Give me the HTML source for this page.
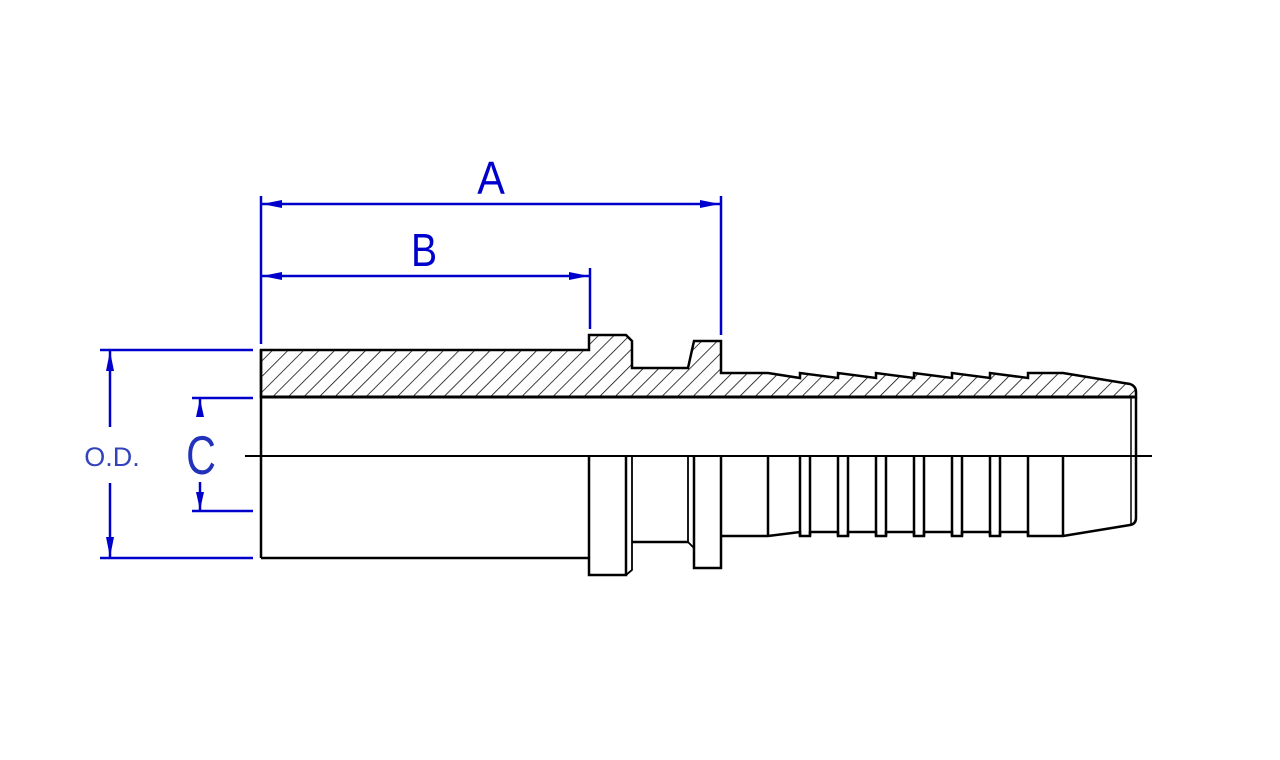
<!DOCTYPE html>
<html><head><meta charset="utf-8"><style>
html,body{margin:0;padding:0;background:#fff;}
svg{display:block;}
</style></head><body>
<svg width="1280" height="760" viewBox="0 0 1280 760" xmlns="http://www.w3.org/2000/svg">
<defs>
<pattern id="h" patternUnits="userSpaceOnUse" width="11" height="11" patternTransform="rotate(45)">
<line x1="0" y1="0" x2="0" y2="11" stroke="#000" stroke-width="1.5"/>
</pattern>
</defs>
<path d="M261,350 L589,350 L589,335 L626,335 L632,341 L632,368 L688,368 L694,341 L721,341 L721,373 L768,373 L800,378 L800,373 L838,378 L838,373 L876,378 L876,373 L914,378 L914,373 L952,378 L952,373 L990,378 L990,373 L1028,378 L1028,373 L1063,373 L1130,384 Q1136,386 1136,392 L1136,397 L261,397 Z" fill="url(#h)" stroke="#000" stroke-width="2.5" stroke-linejoin="miter"/>
<g stroke="#000" stroke-width="2.5" fill="none">
<line x1="261" y1="397" x2="1136" y2="397" stroke-width="3"/>
<line x1="261" y1="350" x2="261" y2="558"/>
<line x1="245" y1="456" x2="1152" y2="456" stroke-width="2"/>
<line x1="261" y1="558" x2="589" y2="558"/>
<path d="M589,456 L589,575 L626,575 L626,456"/>
<path d="M626,456 L632,456 L632,570 L626,575" stroke-width="1.8"/>
<line x1="632" y1="542" x2="688" y2="542"/>
<path d="M688,456 L688,542 L694,548" stroke-width="1.8"/>
<path d="M694,456 L694,568 L721,568 L721,456"/>
<line x1="721" y1="536" x2="768" y2="536"/>
<line x1="768" y1="456" x2="768" y2="536"/>
<path d="M768,536 L800,532 L800,536 L810,536 L810,532 L838,532 L838,536 L848,536 L848,532 L876,532 L876,536 L886,536 L886,532 L914,532 L914,536 L924,536 L924,532 L952,532 L952,536 L962,536 L962,532 L990,532 L990,536 L1000,536 L1000,532 L1028,532 L1028,536 L1063,536 L1130,525 Q1136,524 1136,518 L1136,397"/>
<line x1="800" y1="456" x2="800" y2="536"/><line x1="810" y1="456" x2="810" y2="536"/>
<line x1="838" y1="456" x2="838" y2="536"/><line x1="848" y1="456" x2="848" y2="536"/>
<line x1="876" y1="456" x2="876" y2="536"/><line x1="886" y1="456" x2="886" y2="536"/>
<line x1="914" y1="456" x2="914" y2="536"/><line x1="924" y1="456" x2="924" y2="536"/>
<line x1="952" y1="456" x2="952" y2="536"/><line x1="962" y1="456" x2="962" y2="536"/>
<line x1="990" y1="456" x2="990" y2="536"/><line x1="1000" y1="456" x2="1000" y2="536"/>
<line x1="1028" y1="456" x2="1028" y2="536"/><line x1="1063" y1="456" x2="1063" y2="536"/>
<line x1="1131" y1="397" x2="1131" y2="525" stroke-width="1.5"/>
</g>
<g stroke="#0000cc" stroke-width="2.5" fill="none">
<line x1="261" y1="196" x2="261" y2="344"/>
<line x1="721" y1="196" x2="721" y2="335"/>
<line x1="590" y1="268" x2="590" y2="329"/>
<line x1="261" y1="204" x2="721" y2="204"/>
<line x1="261" y1="276" x2="590" y2="276"/>
<line x1="100" y1="350" x2="253" y2="350"/>
<line x1="100" y1="558" x2="253" y2="558"/>
<line x1="110" y1="350" x2="110" y2="427"/>
<line x1="110" y1="483" x2="110" y2="558"/>
<line x1="192" y1="398" x2="253" y2="398"/>
<line x1="192" y1="511" x2="253" y2="511"/>
<line x1="200" y1="398" x2="200" y2="416"/>
<line x1="200" y1="482" x2="200" y2="511"/>
</g>
<g fill="#0000cc">
<polygon points="262,204 282,200 282,208"/>
<polygon points="720,204 700,200 700,208"/>
<polygon points="262,276 282,272 282,280"/>
<polygon points="589,276 569,272 569,280"/>
<polygon points="110,351 106,371 114,371"/>
<polygon points="110,557 106,537 114,537"/>
<polygon points="200,399 196,417 204,417"/>
<polygon points="200,510 196,492 204,492"/>
</g>
<g fill="#0000cc" font-family="Liberation Sans, sans-serif" text-anchor="middle">
<text x="491" y="194" font-size="46" transform="translate(491 0) scale(0.9 1) translate(-491 0)">A</text>
<text x="424" y="266" font-size="46" transform="translate(424 0) scale(0.85 1) translate(-424 0)">B</text>
<text x="201" y="474" font-size="55" fill="#2233bb" transform="translate(201 0) scale(0.75 1) translate(-201 0)">C</text>
<text x="112" y="466" font-size="27" fill="#3344bb">O.D.</text>
</g>
</svg>
</body></html>
